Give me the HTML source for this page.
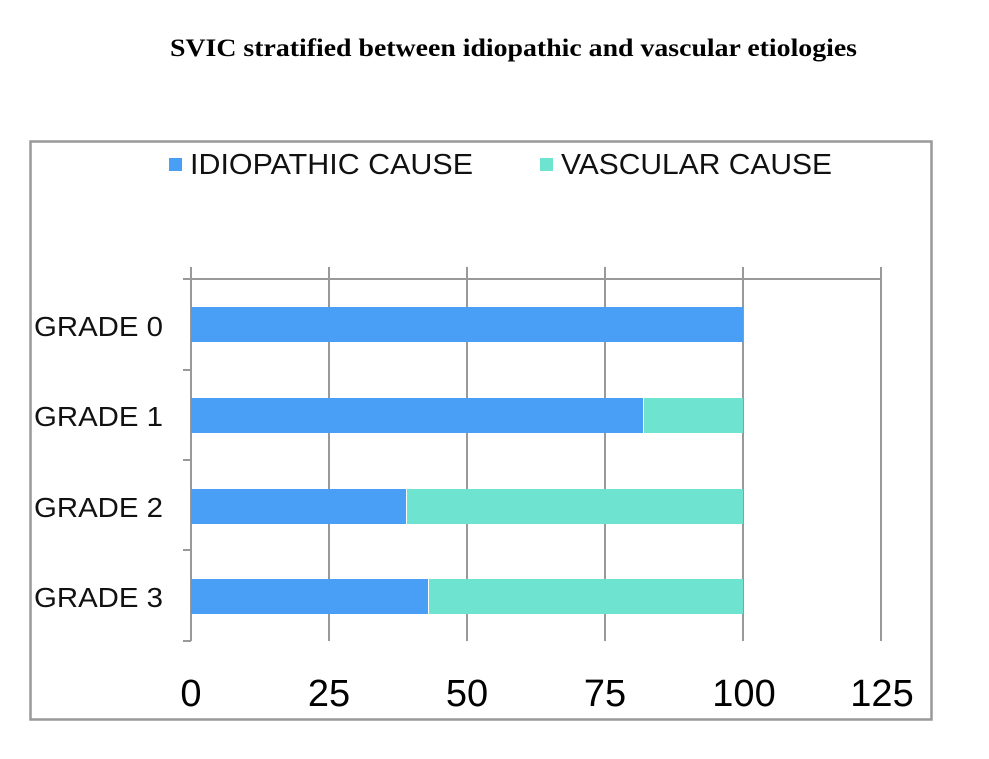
<!DOCTYPE html>
<html><head><meta charset="utf-8"><style>
body{margin:0;background:#fff;}
</style></head><body>
<svg width="989" height="754" xmlns="http://www.w3.org/2000/svg">
<rect width="989" height="754" fill="#fff"/>
<text x="170" y="56" textLength="687" lengthAdjust="spacingAndGlyphs" font-family="Liberation Serif, serif" font-weight="bold" font-size="25" fill="#000">SVIC stratified between idiopathic and vascular etiologies</text>
<rect x="30.5" y="141.5" width="901" height="578" fill="none" stroke="#999" stroke-width="2.5"/>
<rect x="169" y="158" width="13" height="13" fill="#489ff5"/>
<text x="190" y="174" textLength="283" lengthAdjust="spacingAndGlyphs" font-family="Liberation Sans, sans-serif" font-size="29" fill="#111">IDIOPATHIC CAUSE</text>
<rect x="540" y="158" width="13" height="13" fill="#6ee3d0"/>
<text x="561" y="174" textLength="271" lengthAdjust="spacingAndGlyphs" font-family="Liberation Sans, sans-serif" font-size="29" fill="#111">VASCULAR CAUSE</text>
<g stroke="#999" stroke-width="2">
<line x1="183" y1="279" x2="882" y2="279"/>
<line x1="191" y1="267" x2="191" y2="641"/>
<line x1="329" y1="267" x2="329" y2="641"/>
<line x1="467" y1="267" x2="467" y2="641"/>
<line x1="605" y1="267" x2="605" y2="641"/>
<line x1="743" y1="267" x2="743" y2="641"/>
<line x1="881" y1="267" x2="881" y2="641"/>
<line x1="183" y1="370" x2="191" y2="370"/>
<line x1="183" y1="460" x2="191" y2="460"/>
<line x1="183" y1="550" x2="191" y2="550"/>
<line x1="183" y1="641" x2="191" y2="641"/>
</g>
<g>
<rect x="191" y="307" width="552" height="35" fill="#489ff5"/>
<rect x="191" y="398" width="452" height="35" fill="#489ff5"/>
<rect x="644" y="398" width="99" height="35" fill="#6ee3d0"/>
<rect x="191" y="489" width="215" height="35" fill="#489ff5"/>
<rect x="407" y="489" width="336" height="35" fill="#6ee3d0"/>
<rect x="191" y="579" width="237" height="35" fill="#489ff5"/>
<rect x="429" y="579" width="314" height="35" fill="#6ee3d0"/>
</g>
<g font-family="Liberation Sans, sans-serif" font-size="28" fill="#111">
<text x="34" y="336" textLength="129" lengthAdjust="spacingAndGlyphs">GRADE 0</text>
<text x="34" y="426" textLength="129" lengthAdjust="spacingAndGlyphs">GRADE 1</text>
<text x="34" y="517" textLength="129" lengthAdjust="spacingAndGlyphs">GRADE 2</text>
<text x="34" y="607" textLength="129" lengthAdjust="spacingAndGlyphs">GRADE 3</text>
</g>
<g font-family="Liberation Sans, sans-serif" font-size="38" fill="#000" text-anchor="middle">
<text x="191" y="706">0</text>
<text x="329" y="706">25</text>
<text x="467" y="706">50</text>
<text x="605" y="706">75</text>
<text x="744" y="706">100</text>
<text x="882" y="706">125</text>
</g>
</svg>
</body></html>
